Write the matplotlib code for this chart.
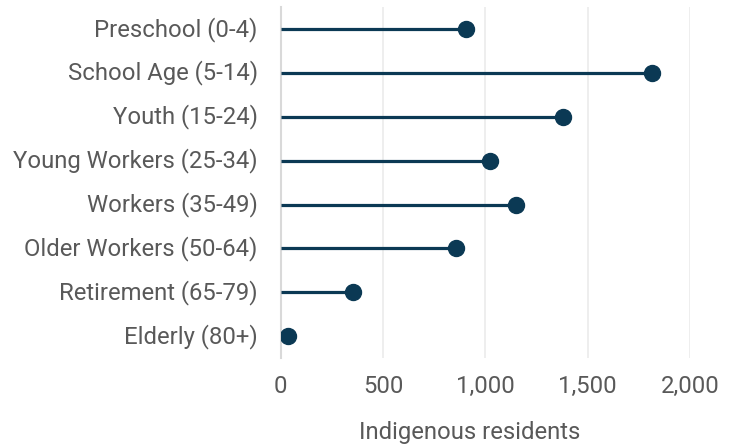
import numpy as np
import matplotlib.pyplot as plt
import matplotlib.transforms as mtransforms

# age groups and indigenous resident counts
groups = ['Preschool (0-4)', 'School Age (5-14)', 'Youth (15-24)',
          'Young Workers (25-34)', 'Workers (35-49)', 'Older Workers (50-64)',
          'Retirement (65-79)', 'Elderly (80+)']
residents = [907, 1814, 1382, 1025, 1152, 858, 353, 37]
x_ticks = [0, 500, 1000, 1500, 2000]
x_ticklabels = ['0', '500', '1,000', '1,500', '2,000']

navy = '#0b3954'
grey_text = '#595959'

plt.rcParams['font.family'] = ['Roboto', 'DejaVu Sans']

fig = plt.figure(figsize=(7.34, 4.46), dpi=100)
ax = fig.add_axes([0.3824, 0.197, 0.5576, 0.787])

ypos = np.arange(len(groups))
ax.hlines(ypos, 0, residents, color=navy, linewidth=2.3, zorder=3)
ax.plot(residents, ypos, 'o', color=navy, markersize=11.5, zorder=4)

ax.set_xlim(0, 2000)
ax.set_ylim(len(groups) - 0.5, -0.5)
ax.set_yticks(ypos)
ax.set_yticklabels(groups)
ax.set_xticks(x_ticks)
ax.set_xticklabels(x_ticklabels)

ax.tick_params(axis='both', length=0, labelsize=17.2, colors=grey_text)
ax.tick_params(axis='y', pad=16.5)
ax.tick_params(axis='x', pad=12)
# nudge category labels up a little so they sit level with the stems
shift = mtransforms.ScaledTranslation(0, 2 / 72, fig.dpi_scale_trans)
for lbl in ax.get_yticklabels():
    lbl.set_transform(lbl.get_transform() + shift)

ax.grid(axis='x', color='#ebebeb', linewidth=1.2)
ax.set_axisbelow(True)
for side in ['top', 'right', 'bottom']:
    ax.spines[side].set_visible(False)
ax.spines['left'].set_color('#d9d9d9')
ax.spines['left'].set_linewidth(1.5)

ax.set_xlabel('Indigenous residents', fontsize=17.2, color=grey_text)
ax.xaxis.set_label_coords(0.4625, -0.18)

fig.savefig('out.png', dpi=100)
